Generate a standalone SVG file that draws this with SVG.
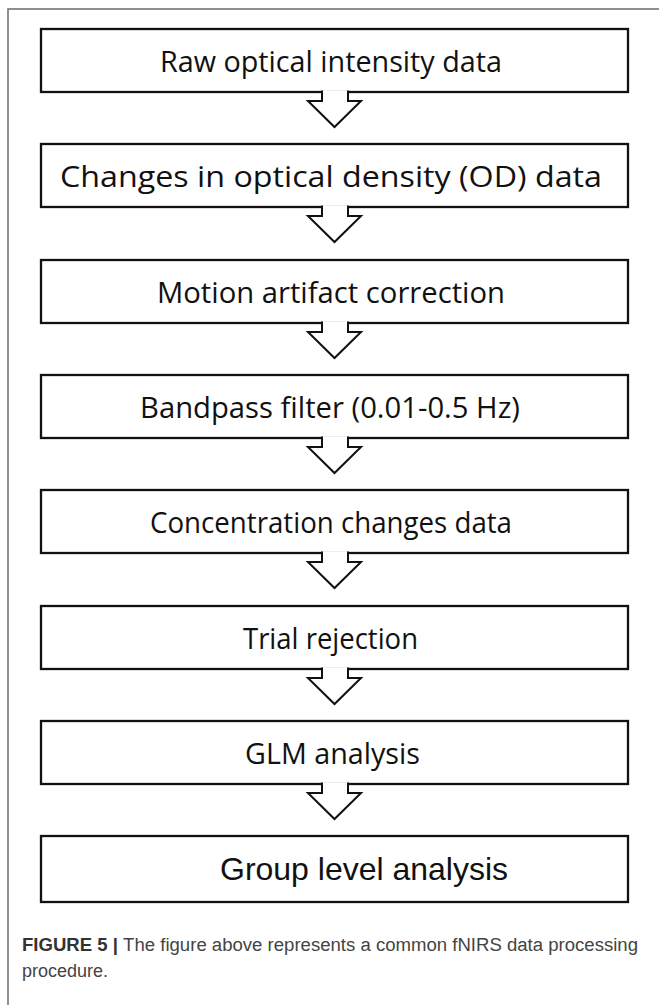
<svg xmlns="http://www.w3.org/2000/svg" width="659" height="1005" viewBox="0 0 659 1005">
  <style>
    .frame { fill: none; stroke: #6b6b6b; stroke-width: 1.5; }
    .box { fill: #ffffff; stroke: #111111; stroke-width: 2.3; }
    .arrow { fill: #ffffff; stroke: #111111; stroke-width: 2; stroke-linejoin: miter; }
    .lbl { font-family: "Open Sans", "Noto Sans", sans-serif; font-size: 29px; fill: #111111; }
    .lbl-arial { font-family: "Liberation Sans", Arial, sans-serif; font-size: 32px; fill: #111111; }
    .cap { font-family: "Liberation Sans", Arial, sans-serif; font-size: 18px; fill: #444444; }
    .cap-b { font-weight: bold; fill: #333333; }
  </style>

  <rect width="659" height="1005" fill="#ffffff"/>

  <!-- page frame: top and left rules only -->
  <path class="frame" d="M8,1005 L8,9 L659,9"/>

  <g id="node-raw">
    <rect class="box" x="41" y="29" width="587" height="63"/>
    <text class="lbl" x="160" y="71.5" textLength="342" lengthAdjust="spacingAndGlyphs">Raw optical intensity data</text>
  </g>
  <g id="node-od">
    <rect class="box" x="41" y="144" width="587" height="63"/>
    <text class="lbl" x="60" y="186.5" textLength="542" lengthAdjust="spacingAndGlyphs">Changes in optical density (OD) data</text>
  </g>
  <g id="node-motion">
    <rect class="box" x="41" y="260" width="587" height="63"/>
    <text class="lbl" x="157" y="302.5" textLength="348" lengthAdjust="spacingAndGlyphs">Motion artifact correction</text>
  </g>
  <g id="node-bandpass">
    <rect class="box" x="41" y="375" width="587" height="63"/>
    <text class="lbl" x="140" y="417.5" textLength="380" lengthAdjust="spacingAndGlyphs">Bandpass filter (0.01-0.5 Hz)</text>
  </g>
  <g id="node-concentration">
    <rect class="box" x="41" y="490" width="587" height="63"/>
    <text class="lbl" x="150" y="532.5" textLength="362" lengthAdjust="spacingAndGlyphs">Concentration changes data</text>
  </g>
  <g id="node-trial">
    <rect class="box" x="41" y="606" width="587" height="63"/>
    <text class="lbl" x="243" y="648.5" textLength="175" lengthAdjust="spacingAndGlyphs">Trial rejection</text>
  </g>
  <g id="node-glm">
    <rect class="box" x="41" y="721" width="587" height="63"/>
    <text class="lbl" x="245" y="763.5" textLength="175" lengthAdjust="spacingAndGlyphs">GLM analysis</text>
  </g>
  <g id="node-group">
    <rect class="box" x="41" y="836" width="587" height="66"/>
    <text class="lbl-arial" x="220" y="880" textLength="288" lengthAdjust="spacingAndGlyphs">Group level analysis</text>
  </g>

  <!-- hollow block arrows opening into the box above -->
  <g id="connectors">
    <path class="arrow" d="M322,90.5 L322,101 L308,101 L334.5,127 L361,101 L348,101 L348,90.5"/>
    <path class="arrow" d="M322,205.5 L322,216 L308,216 L334.5,242 L361,216 L348,216 L348,205.5"/>
    <path class="arrow" d="M322,321.5 L322,332 L308,332 L334.5,358 L361,332 L348,332 L348,321.5"/>
    <path class="arrow" d="M322,436.5 L322,447 L308,447 L334.5,473 L361,447 L348,447 L348,436.5"/>
    <path class="arrow" d="M322,551.5 L322,562 L308,562 L334.5,588 L361,562 L348,562 L348,551.5"/>
    <path class="arrow" d="M322,667.5 L322,678 L308,678 L334.5,704 L361,678 L348,678 L348,667.5"/>
    <path class="arrow" d="M322,782.5 L322,793 L308,793 L334.5,819 L361,793 L348,793 L348,782.5"/>
  </g>

  <g id="caption">
    <text class="cap" x="22" y="951" textLength="616" lengthAdjust="spacingAndGlyphs"><tspan class="cap-b">FIGURE 5 | </tspan>The figure above represents a common fNIRS data processing</text>
    <text class="cap" x="22" y="977">procedure.</text>
  </g>
</svg>
